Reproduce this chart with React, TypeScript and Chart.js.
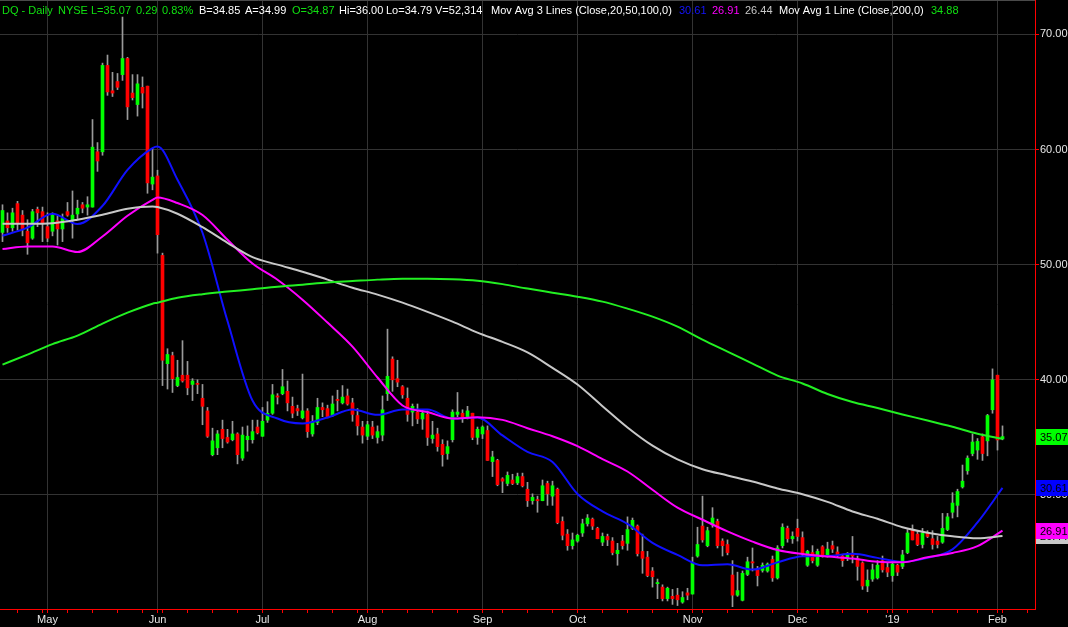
import React, { useEffect, useRef } from 'react';
import { Chart, registerables } from 'chart.js';
Chart.register(...registerables);

// ---------- categories ----------
const START_DATE = '2018-04-18';
const HOLIDAYS = ['2018-05-28', '2018-07-04', '2018-09-03', '2018-11-22', '2018-12-05', '2018-12-25', '2019-01-01', '2019-01-21'];
const N_SLOTS = 207; // 201 trading days + 6 empty future slots
const MONTH_NAMES = ["'19", 'Feb', 'Mar', 'Apr', 'May', 'Jun', 'Jul', 'Aug', 'Sep', 'Oct', 'Nov', 'Dec'];
const Y_TICKS = [30, 40, 50, 60, 70];
const Y_MIN = 20.1;
const Y_MAX = 72.98;

// ---------- daily OHLC ----------
const OPEN = [52.8,53.8,53.2,55.3,54.3,52.9,52.3,54.8,54.6,53.3,52.9,53.8,53.1,54.6,53.9,54.4,55.2,55.0,55.0,59.8,
59.8,67.3,65.1,65.9,66.5,67.9,64.9,63.9,65.4,65.5,57.0,57.7,50.8,41.4,42.1,39.5,40.4,40.4,39.6,39.7,
38.4,37.3,33.5,34.1,35.7,35.0,34.8,35.3,33.2,34.8,34.8,35.9,35.1,36.5,37.1,38.6,38.8,39.0,37.7,37.5,
36.7,37.3,35.3,36.3,37.6,37.5,36.9,38.3,38.0,38.6,38.0,36.9,35.9,35.1,35.9,35.0,35.2,38.8,41.8,40.1,
39.4,38.4,37.2,37.2,36.6,37.0,34.9,35.3,34.4,33.6,34.8,37.0,37.1,36.8,37.1,35.0,35.3,35.6,32.9,33.0,
31.4,31.0,31.3,31.05,31.6,30.5,29.5,29.6,29.5,31.0,29.9,30.5,27.7,26.6,25.6,26.0,26.7,27.5,27.9,27.1,
25.9,26.4,26.0,24.9,26.0,25.8,27.1,27.3,25.1,24.6,23.4,22.3,22.0,21.0,21.2,21.3,20.7,21.5,21.4,24.7,
27.3,25.6,27.4,27.7,26.0,25.7,23.05,21.3,20.85,23.1,24.2,23.5,23.45,23.4,24.4,22.8,25.6,27.1,26.2,27.1,
26.3,23.9,25.0,23.9,25.5,24.7,25.6,25.05,24.7,24.5,24.9,24.5,24.1,22.1,22.7,22.8,24.3,23.7,23.0,23.9,
23.8,25.0,27.0,26.6,25.7,26.7,26.2,26.0,25.9,27.0,28.5,29.1,30.7,32.1,33.6,33.9,35.05,34.7,37.4,40.4,
34.87];
const HIGH = [55.2,54.5,54.9,55.5,54.7,53.9,54.8,55.0,55.0,54.5,54.5,54.2,54.4,55.4,56.4,55.6,55.4,55.9,62.6,60.6,
67.5,68.2,66.7,66.6,71.5,68.0,66.5,66.5,66.3,65.5,60.1,58.2,51.0,42.7,42.4,41.7,43.4,41.6,40.1,40.0,
39.6,37.6,35.8,35.6,36.5,35.7,36.4,35.4,35.9,36.0,36.5,36.5,37.6,38.1,39.6,38.8,40.9,39.9,38.5,37.8,
40.5,37.5,36.9,38.4,38.0,37.8,38.6,39.1,39.5,39.2,38.4,37.5,36.4,36.4,36.4,36.0,38.6,44.4,42.0,41.7,
39.5,39.3,37.9,37.9,37.4,37.3,36.4,35.8,34.8,34.7,37.4,38.9,37.4,37.7,37.1,35.9,36.0,36.0,33.8,33.1,
31.5,32.0,31.8,31.9,31.9,31.1,30.1,29.9,31.3,31.2,31.2,30.6,28.1,27.0,26.7,26.6,27.9,28.3,28.0,27.2,
26.7,26.6,26.3,25.8,26.5,28.1,28.0,27.4,26.6,25.1,23.7,22.7,22.2,22.0,21.8,21.9,21.6,21.9,24.6,27.2,
29.9,27.2,28.9,27.9,26.2,26.1,24.3,23.3,23.4,24.6,25.4,23.8,24.1,24.1,24.7,25.6,27.5,27.3,26.8,27.9,
26.8,25.2,25.6,25.3,25.6,25.9,26.0,25.5,24.85,25.0,26.4,24.7,24.2,23.5,24.0,24.3,24.7,24.1,24.3,24.0,
25.2,27.0,27.4,26.9,27.1,26.9,26.9,26.4,28.4,28.4,30.2,30.5,32.6,33.4,35.3,34.9,35.3,37.0,40.95,40.4,
36.0];
const LOW = [52.0,52.8,52.9,53.0,52.5,50.9,52.2,53.3,52.0,52.0,52.5,51.7,52.0,54.2,52.3,53.9,54.5,54.3,55.0,58.1,
59.5,64.7,64.6,65.2,66.0,62.6,64.3,62.9,63.6,56.2,56.5,51.0,39.5,39.2,38.9,39.4,39.8,38.7,38.2,38.8,
36.1,35.0,33.4,33.5,34.1,34.5,34.7,32.7,33.0,33.8,34.5,35.3,35.1,36.3,37.0,37.9,38.7,37.3,36.7,36.9,
36.6,35.0,35.1,36.1,36.8,36.7,36.8,37.3,37.9,37.8,36.4,35.2,34.5,34.8,34.9,34.5,34.7,38.2,39.0,39.4,
38.4,36.4,36.0,36.2,35.7,34.3,34.5,33.8,32.5,33.1,34.6,36.8,36.3,36.6,34.8,34.4,34.9,33.0,31.6,30.8,
30.2,30.8,30.9,30.9,30.7,29.0,29.2,28.5,29.5,29.1,29.1,27.5,26.1,25.2,25.3,25.9,26.4,27.3,27.0,26.2,
25.6,25.6,24.8,23.9,25.3,25.2,27.0,24.7,23.2,22.9,22.0,21.0,20.8,20.8,20.5,20.4,20.6,20.9,21.4,24.6,
25.9,25.5,27.2,25.4,24.7,24.8,20.3,21.2,20.8,23.0,23.4,22.1,23.3,23.3,22.5,22.7,25.4,25.9,25.8,26.0,
24.7,23.8,24.1,23.8,24.6,24.6,25.0,24.6,23.8,24.3,24.1,22.6,21.8,21.6,22.5,22.7,23.3,22.9,22.5,23.0,
23.6,24.9,26.1,25.6,25.4,26.3,25.3,25.4,25.8,26.9,28.0,28.1,30.6,31.8,33.4,33.1,33.0,33.4,37.1,33.9,
34.79];
const CLOSE = [54.7,53.2,54.5,53.6,53.1,51.9,54.6,54.5,53.6,52.3,54.3,53.1,54.0,54.3,54.3,54.9,54.9,55.2,60.2,59.0,
67.3,65.0,64.9,65.4,67.9,63.7,64.5,65.7,64.9,57.1,57.6,52.6,41.7,42.2,40.1,40.2,39.9,39.3,39.9,39.6,
37.7,35.1,34.7,35.3,34.9,34.6,35.3,33.5,35.2,35.1,35.5,35.4,36.4,37.1,38.7,38.5,39.4,38.0,37.1,37.3,
37.3,35.5,36.4,37.6,37.4,36.7,37.9,38.2,38.5,37.9,37.0,36.0,35.2,36.1,35.2,35.5,37.4,40.3,40.0,39.8,
38.7,37.0,37.7,36.6,37.1,35.0,35.2,34.2,33.5,34.2,37.2,37.2,36.7,37.3,35.0,35.7,35.9,33.0,33.3,30.9,
31.2,31.7,31.0,31.6,30.8,29.5,29.8,29.5,30.8,30.1,30.8,27.6,26.5,25.6,26.1,26.5,27.5,28.0,27.3,26.2,
26.4,26.1,25.0,25.2,25.6,27.0,27.8,24.9,24.5,23.0,22.9,22.4,21.0,21.9,21.0,20.9,21.1,21.3,24.1,25.7,
26.1,26.9,28.0,25.6,25.6,25.0,21.3,21.7,23.2,24.2,24.1,23.0,23.9,24.0,22.8,25.4,27.2,26.2,26.4,26.4,
24.9,25.1,24.3,25.1,24.7,25.3,25.3,24.8,24.3,24.9,24.7,23.8,22.1,22.6,23.5,23.9,23.5,23.3,24.0,23.3,
24.8,26.7,26.1,25.7,26.7,26.4,25.7,25.7,27.1,28.1,29.3,30.3,31.2,33.2,34.6,34.65,33.6,36.9,40.0,34.78,
35.07];

// ---------- moving averages, read at these day indices ----------
const MA_IDX = [0,5,10,15,20,25,30,31,35,40,45,50,55,60,65,70,75,80,85,90,95,100,105,110,115,120,125,130,135,140,145,150,155,160,165,170,175,180,185,190,195,200];
const MA20 = [52.51,53.21,54.42,53.53,55.1,58.23,60.12,60.26,57.37,52.77,45.1,38.2,36.64,36.21,36.73,37.42,36.96,37.42,37.42,36.64,36.73,35.17,33.74,32.87,30.09,28.57,27.49,25.84,24.8,23.89,23.98,23.52,24.15,24.67,24.71,24.89,24.54,24.19,24.54,25.28,27.62,30.61];
const MA50 = [51.36,51.58,51.58,51.1,52.45,54.25,55.63,55.83,55.35,54.31,52.16,50.1,48.69,46.96,44.97,42.88,40.2,37.77,37.2,36.64,36.75,36.52,35.8,35.1,34.24,33.12,32.04,30.45,28.9,27.85,26.84,25.95,25.22,24.87,24.65,24.48,24.2,24.15,24.6,24.97,25.56,26.91];
const MA100 = [53.55,53.55,53.6,53.9,54.33,54.85,55.05,55.0,54.42,53.25,51.9,50.65,50.0,49.39,48.7,48.0,47.4,46.7,45.9,45.05,44.1,43.29,42.38,41.04,39.59,37.71,35.86,34.28,33.09,32.24,31.7,31.17,30.57,30.07,29.4,28.57,27.93,27.2,26.73,26.41,26.24,26.44];
const MA200 = [41.32,42.19,43.1,43.84,44.88,45.83,46.61,46.7,47.13,47.44,47.66,47.87,48.09,48.26,48.44,48.57,48.7,48.78,48.78,48.74,48.61,48.31,47.92,47.57,47.22,46.79,46.18,45.49,44.62,43.49,42.45,41.41,40.37,39.68,38.77,38.07,37.55,36.99,36.47,35.92,35.31,34.88];

// ---------- header & last-value tags ----------
const GREEN_TXT = '#10e010';
const HEADER: [string, string, number][] = [
  ['DQ - Daily', GREEN_TXT, 2], ['NYSE', GREEN_TXT, 58], ['L=35.07', GREEN_TXT, 91], ['0.29', GREEN_TXT, 136],
  ['0.83%', GREEN_TXT, 162], ['B=34.85', '#ffffff', 199], ['A=34.99', '#ffffff', 245], ['O=34.87', GREEN_TXT, 292],
  ['Hi=36.00', '#ffffff', 339], ['Lo=34.79', '#ffffff', 386], ['V=52,314', '#ffffff', 435],
  ['Mov Avg 3 Lines (Close,20,50,100,0)', '#ffffff', 491], ['30.61', '#1414ff', 679], ['26.91', '#ff00ff', 712],
  ['26.44', '#c8c8c8', 745], ['Mov Avg 1 Line (Close,200,0)', '#ffffff', 779], ['34.88', GREEN_TXT, 931],
];
const TAG_VALUES = [26.44, 26.91, 30.61, 35.07];
const TAG_COLORS = ['#c8c8c8', '#ff00ff', '#0000ff', '#00ff00'];

function buildDates(): Date[] {
  const out: Date[] = [];
  const d = new Date(START_DATE + 'T00:00:00Z');
  while (out.length < N_SLOTS) {
    const dow = d.getUTCDay();
    const iso = d.toISOString().slice(0, 10);
    if (dow !== 0 && dow !== 6 && !HOLIDAYS.includes(iso)) out.push(new Date(d.getTime()));
    d.setUTCDate(d.getUTCDate() + 1);
  }
  return out;
}

function sparse(values: number[]): (number | null)[] {
  const arr: (number | null)[] = new Array(N_SLOTS).fill(null);
  MA_IDX.forEach((idx, k) => { arr[idx] = values[k]; });
  return arr;
}

export default function App() {
  const ref = useRef<HTMLCanvasElement>(null);
  useEffect(() => {
    const dates = buildDates();
    const labels = dates.map((d) => d.toISOString().slice(0, 10));
    const monthStart = dates.map((d, i) => i > 0 && d.getUTCMonth() !== dates[i - 1].getUTCMonth());
    const weekStart = dates.map((d, i) => i > 0 && d.getUTCDay() < dates[i - 1].getUTCDay());
    const bodies = OPEN.map((o, i) => [o, CLOSE[i]]);
    const wicks = LOW.map((l, i) => [l, HIGH[i]]);
    const bodyColors = OPEN.map((o, i) => (CLOSE[i] >= o ? '#00ff00' : '#ff0000'));

    const overlay = {
      id: 'overlay',
      beforeDraw(chart: any) {
        const c = chart.ctx;
        c.save();
        c.fillStyle = '#000000';
        c.fillRect(0, 0, chart.width, chart.height);
        c.restore();
      },
      afterDraw(chart: any) {
        const c = chart.ctx;
        c.save();
        c.strokeStyle = '#4a4a4a';
        c.lineWidth = 1;
        c.beginPath();
        c.moveTo(0, 0.5);
        c.lineTo(chart.chartArea.right, 0.5);
        c.stroke();
        c.font = '11px "Liberation Sans", Arial, sans-serif';
        c.textBaseline = 'middle';
        c.textAlign = 'left';
        HEADER.forEach(([t, col, x]) => {
          c.fillStyle = col;
          c.fillText(t, x, 11);
        });
        const ys = chart.scales.y;
        const left = chart.chartArea.right + 1;
        TAG_VALUES.forEach((v, k) => {
          const py = Math.round(ys.getPixelForValue(v));
          c.fillStyle = TAG_COLORS[k];
          c.fillRect(left, py - 8, chart.width - left, 16);
          c.fillStyle = '#000000';
          c.fillText(v.toFixed(2), left + 4, py + 0.5);
        });
        c.restore();
      },
    };

    const lineDs = (data: (number | null)[], color: string) => ({
      type: 'line' as const,
      data,
      borderColor: color,
      borderWidth: 2,
      pointRadius: 0,
      spanGaps: true,
      cubicInterpolationMode: 'monotone' as const,
      order: 0,
    });

    const chart = new Chart(ref.current!, {
      type: 'bar',
      data: {
        labels,
        datasets: [
          lineDs(sparse(MA200), '#22f022'),
          lineDs(sparse(MA100), '#c8c8c8'),
          lineDs(sparse(MA50), '#ff00ff'),
          lineDs(sparse(MA20), '#1010ff'),
          {
            type: 'bar',
            data: bodies as any,
            backgroundColor: bodyColors,
            barThickness: 3,
            minBarLength: 1,
            grouped: false,
            order: 1,
          } as any,
          {
            type: 'bar',
            data: wicks as any,
            backgroundColor: '#9a9a9a',
            barThickness: 1,
            grouped: false,
            order: 2,
          } as any,
        ],
      },
      options: {
        responsive: false,
        animation: false,
        devicePixelRatio: 1,
        events: [],
        layout: { padding: 0 },
        plugins: { legend: { display: false }, tooltip: { enabled: false }, title: { display: false } },
        scales: {
          x: {
            type: 'category',
            offset: true,
            border: { color: '#ff0000', width: 1 },
            grid: {
              offset: false,
              color: (ctx: any) => (monthStart[ctx.index] ? '#333333' : 'rgba(0,0,0,0)'),
              tickColor: (ctx: any) => (monthStart[ctx.index] || weekStart[ctx.index] ? '#ff0000' : 'rgba(0,0,0,0)'),
              tickLength: 4,
              drawOnChartArea: true,
            },
            ticks: {
              autoSkip: false,
              maxRotation: 0,
              minRotation: 0,
              padding: 0,
              color: '#e6e6e6',
              font: { family: '"Liberation Sans", Arial, sans-serif', size: 11 },
              callback: (_v: any, i: number) => (monthStart[i] ? MONTH_NAMES[dates[i].getUTCMonth()] : ''),
            },
            afterFit: (s: any) => {
              s.height = 18;
              s.paddingLeft = 0;
              s.paddingRight = 0;
            },
          },
          y: {
            position: 'right',
            min: Y_MIN,
            max: Y_MAX,
            border: { color: '#ff0000', width: 1 },
            grid: { color: '#333333', tickColor: '#ff0000', tickLength: 4 },
            afterBuildTicks: (s: any) => {
              s.ticks = Y_TICKS.map((v) => ({ value: v }));
            },
            ticks: {
              padding: 1,
              color: '#e6e6e6',
              font: { family: '"Liberation Sans", Arial, sans-serif', size: 11 },
              callback: (v: any) => Number(v).toFixed(2),
            },
            afterFit: (s: any) => {
              s.width = 33;
              s.paddingTop = 0;
              s.paddingBottom = 0;
            },
          },
        },
      },
      plugins: [overlay],
    });
    return () => chart.destroy();
  }, []);

  return (
    <div style={{ position: 'absolute', left: 0, top: 0, width: 1068, height: 627, background: '#000' }}>
      <canvas ref={ref} width={1068} height={627} style={{ display: 'block' }} />
    </div>
  );
}
